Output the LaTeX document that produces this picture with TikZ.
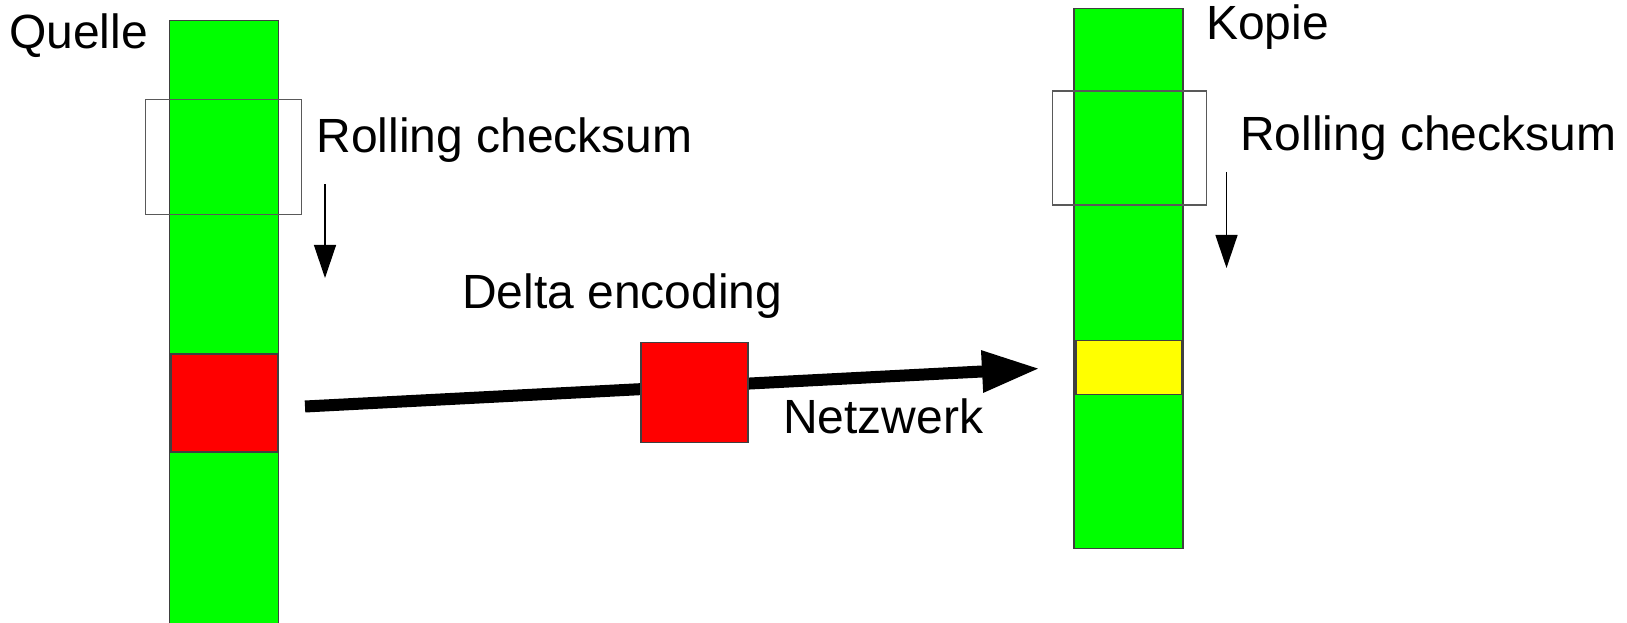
\documentclass[tikz,border=0pt]{standalone}
\usepackage{fontspec}
\setmainfont{Liberation Sans}
\usetikzlibrary{arrows.meta}
\definecolor{bargreen}{HTML}{00FF00}
\definecolor{boxred}{HTML}{FF0000}
\definecolor{boxyellow}{HTML}{FFFF00}
\tikzset{
  block/.style={draw=black!75, line width=1.2bp, inner sep=0pt, outer sep=0pt, anchor=north west},
  window/.style={draw=black!65, line width=1.2bp, inner sep=0pt, outer sep=0pt, anchor=north west, fill=none},
  lbl/.style={inner sep=0pt, outer sep=0pt, anchor=base west, font=\fontsize{48bp}{58bp}\selectfont},
  slide/.style={line width=1.3bp, -{Triangle[length=33bp,width=22bp]}},
  net/.style={line width=12bp, -{Triangle[length=58bp,width=39bp]}}
}
\begin{document}
\begin{tikzpicture}[x=1bp,y=-1bp]
\useasboundingbox (0,0) rectangle (1627,623);
% Source column
\node[block, fill=bargreen, minimum width=109bp, minimum height=610bp] (qbar) at (169.5,20.8) {};
\node[block, fill=boxred, minimum width=107bp, minimum height=98bp] (qred) at (171,354) {};
\node[window, minimum width=156bp, minimum height=115bp] (qwin) at (145.5,99.8) {};
\node[lbl] (quelle) at (9,48.8) {Quelle};
\node[lbl] (qroll) at (316.5,152.5) {Rolling checksum};
\coordinate (qa1) at (325,184.5);
\coordinate (qa2) at (325,278);
\draw[slide] (qa1) -- (qa2);
% Copy column
\node[block, fill=bargreen, minimum width=109bp, minimum height=540bp] (kbar) at (1074,8.3) {};
\node[block, fill=boxyellow, minimum width=106bp, minimum height=54bp] (kyel) at (1076,340.5) {};
\node[window, minimum width=154bp, minimum height=114bp] (kwin) at (1052.5,91) {};
\node[lbl] (kopie) at (1206,39.4) {Kopie};
\node[lbl] (kroll) at (1240,150.5) {Rolling checksum};
\coordinate (ka1) at (1226.5,172);
\coordinate (ka2) at (1226.5,268);
\draw[slide] (ka1) -- (ka2);
% Network transfer
\coordinate (src) at (305,406.5);
\coordinate (dst) at (1040,368.5);
\draw[net] (src) -- (dst);
\node[block, fill=boxred, minimum width=107bp, minimum height=100bp] (dred) at (641,342.3) {};
\node[lbl] (delta) at (462,308) {Delta encoding};
\node[lbl] (netz) at (783,433.7) {Netzwerk};
\end{tikzpicture}
\end{document}
